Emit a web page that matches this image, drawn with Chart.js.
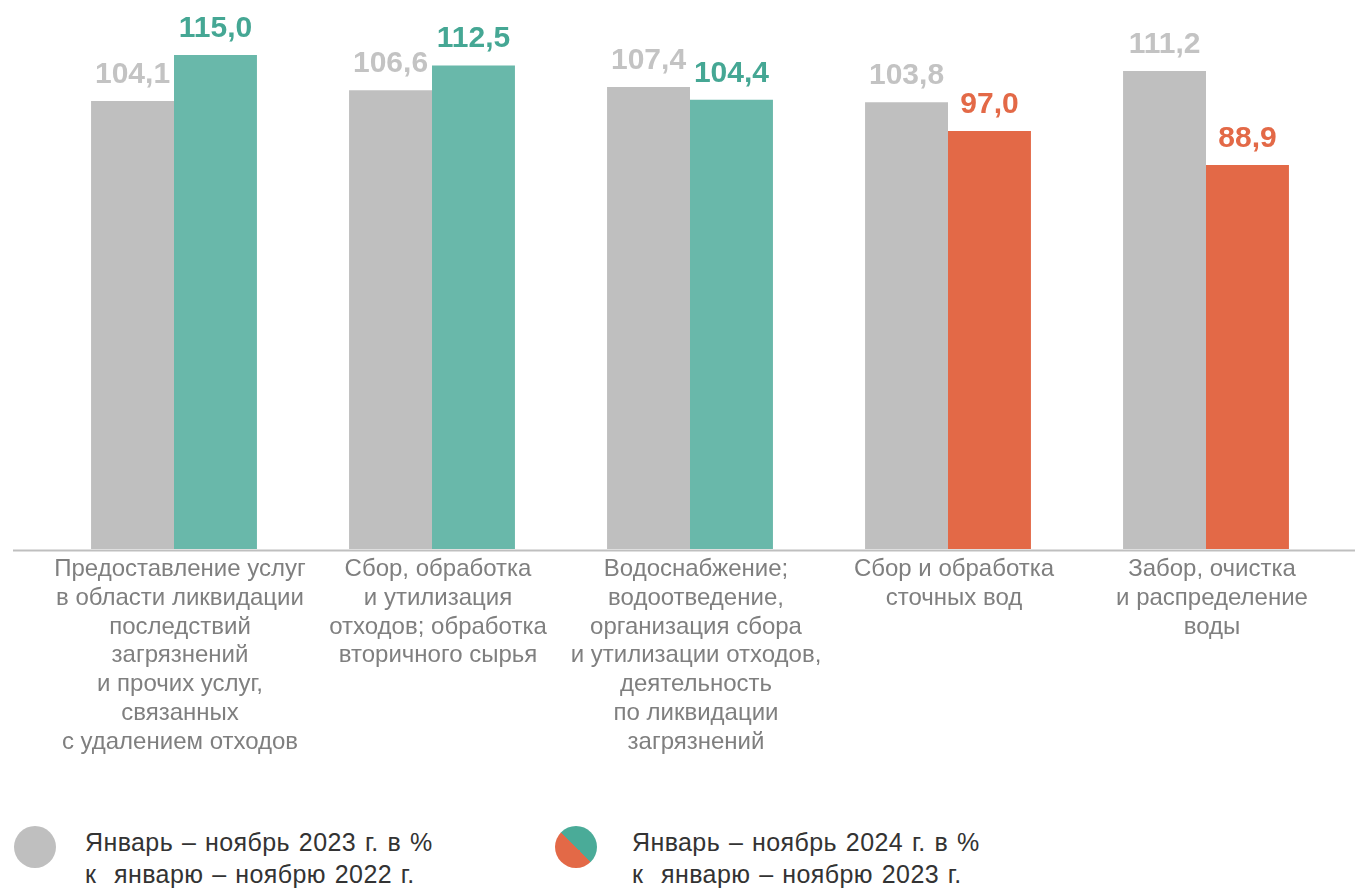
<!DOCTYPE html>
<html><head><meta charset="utf-8">
<script src="https://cdn.jsdelivr.net/npm/chart.js@4.4.1/dist/chart.umd.min.js"></script>
<style>
body{margin:0;background:#fff;width:1355px;height:888px;overflow:hidden;font-family:"Liberation Sans",Arial,sans-serif;position:relative}
#wrap{position:absolute;left:0;top:0;width:1355px;height:800px}
.dot{position:absolute;width:42px;height:42px;border-radius:50%}
.txt{position:absolute;font-size:25px;line-height:32px;color:#333;white-space:pre;word-spacing:1.5px;letter-spacing:0.4px}
</style></head>
<body>
<div id="wrap"><canvas id="c" width="1355" height="800"></canvas></div>
<div id="legend"></div>
<script>
const categories = [
  ["Предоставление услуг","в области ликвидации","последствий","загрязнений","и прочих услуг,","связанных","с удалением отходов"],
  ["Сбор, обработка","и утилизация","отходов; обработка","вторичного сырья"],
  ["Водоснабжение;","водоотведение,","организация сбора","и утилизации отходов,","деятельность","по ликвидации","загрязнений"],
  ["Сбор и обработка","сточных вод"],
  ["Забор, очистка","и распределение","воды"]
];
const series2023 = [104.1, 106.6, 107.4, 103.8, 111.2];
const series2024 = [115.0, 112.5, 104.4, 97.0, 88.9];
const legendLabels = [
  ["Январь – ноябрь 2023 г. в %", "к  январю – ноябрю 2022 г."],
  ["Январь – ноябрь 2024 г. в %", "к  январю – ноябрю 2023 г."]
];

const GRAY = '#bfbfbf', TEAL = '#69b8aa', ORANGE = '#e36947';
const TEAL_TXT = '#45a794', GRAY_TXT = '#c3c3c3';
const colors2024 = series2024.map(v => v >= 100 ? TEAL : ORANGE);
const txt2024 = series2024.map(v => v >= 100 ? TEAL_TXT : ORANGE);

const valueLabels = {
  id: 'valueLabels',
  afterDatasetsDraw(chart) {
    const ctx = chart.ctx;
    ctx.save();
    ctx.font = 'bold 30px "Liberation Sans", Arial, sans-serif';
    ctx.textAlign = 'center';
    ctx.textBaseline = 'alphabetic';
    chart.data.datasets.forEach((ds, di) => {
      chart.getDatasetMeta(di).data.forEach((bar, i) => {
        ctx.fillStyle = di === 0 ? GRAY_TXT : txt2024[i];
        ctx.fillText(ds.data[i].toFixed(1).replace('.', ','), bar.x, bar.y - 18);
      });
    });
    const a = chart.chartArea;
    ctx.strokeStyle = '#bfbfbf';
    ctx.lineWidth = 2;
    ctx.beginPath();
    ctx.moveTo(a.left - 32, a.bottom + 1.5);
    ctx.lineTo(chart.width, a.bottom + 1.5);
    ctx.stroke();
    ctx.restore();
  }
};

new Chart(document.getElementById('c'), {
  type: 'bar',
  data: {
    labels: categories,
    datasets: [
      { label: legendLabels[0].join(' '), data: series2023, backgroundColor: GRAY, base: -2,
        categoryPercentage: 0.643, barPercentage: 1.0 },
      { label: legendLabels[1].join(' '), data: series2024, backgroundColor: colors2024, base: -2,
        categoryPercentage: 0.643, barPercentage: 1.0 }
    ]
  },
  options: {
    responsive: false,
    animation: false,
    devicePixelRatio: 1,
    layout: { padding: { left: 45, right: 20, top: 0, bottom: 0 } },
    plugins: { legend: { display: false }, tooltip: { enabled: false } },
    scales: {
      x: {
        grid: { display: false, drawTicks: false },
        border: { display: false },
        ticks: {
          color: '#7f7f7f',
          font: { family: '"Liberation Sans", Arial, sans-serif', size: 24, lineHeight: '28.8px' },
          maxRotation: 0, minRotation: 0, autoSkip: false, padding: 6, labelOffset: 6
        },
        afterFit(s) { s.height = 251; }
      },
      y: { display: false, min: -2, max: 128 }
    }
  },
  plugins: [valueLabels]
});

const leg = document.getElementById('legend');
const items = [
  { dot: 'background:' + GRAY, dx: 14, tx: 85 },
  { dot: 'background:linear-gradient(45deg,' + ORANGE + ' 50%,#4aab98 50%)', dx: 555, tx: 632 }
];
items.forEach((it, i) => {
  const d = document.createElement('div');
  d.className = 'dot';
  d.style.cssText = it.dot + ';left:' + it.dx + 'px;top:826px';
  leg.appendChild(d);
  const t = document.createElement('div');
  t.className = 'txt';
  t.style.left = it.tx + 'px';
  t.style.top = '826px';
  t.textContent = legendLabels[i].join('\n');
  leg.appendChild(t);
});
</script>
</body></html>
